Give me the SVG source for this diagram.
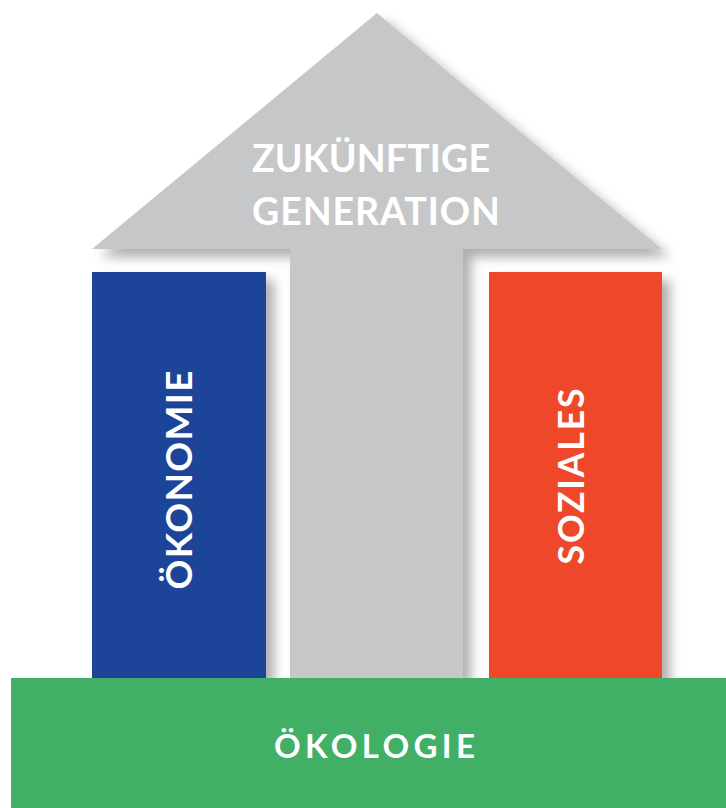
<svg xmlns="http://www.w3.org/2000/svg" width="726" height="808" viewBox="0 0 726 808">
  <defs>
    <filter id="shadow" x="-20%" y="-20%" width="150%" height="150%">
      <feGaussianBlur in="SourceAlpha" stdDeviation="6"/>
      <feOffset dx="8" dy="8" result="b"/>
      <feFlood flood-color="#000" flood-opacity="0.32"/>
      <feComposite in2="b" operator="in"/>
      <feMerge>
        <feMergeNode/>
        <feMergeNode in="SourceGraphic"/>
      </feMerge>
    </filter>
  </defs>
  <style>
    .lbl { font-family: Lato, "Open Sans", "Liberation Sans", sans-serif; font-weight: 700; fill: #ffffff; }
  </style>
  <rect width="726" height="808" fill="#ffffff"/>
  <g id="zukunft">
    <path d="M377 13 L662 249 L463 249 L463 679 L290 679 L290 249 L92 249 Z" fill="#C6C7C9" filter="url(#shadow)"/>
    <text class="lbl" x="252" y="172" font-size="37.5" textLength="238" lengthAdjust="spacing">ZUKÜNFTIGE</text>
    <text class="lbl" x="252" y="225" font-size="37.5" textLength="248" lengthAdjust="spacing">GENERATION</text>
  </g>
  <g id="oekonomie">
    <rect x="92" y="272" width="174" height="407" fill="#1F4499" filter="url(#shadow)"/>
    <text class="lbl" transform="translate(191.5 480) rotate(-90)" x="0" y="0" text-anchor="middle" font-size="37" textLength="219" lengthAdjust="spacing">ÖKONOMIE</text>
  </g>
  <g id="soziales">
    <rect x="489" y="272" width="173" height="407" fill="#EE4729" filter="url(#shadow)"/>
    <text class="lbl" transform="translate(583.5 476.5) rotate(-90)" x="0" y="0" text-anchor="middle" font-size="35.5" textLength="176" lengthAdjust="spacing">SOZIALES</text>
  </g>
  <g id="oekologie">
    <rect x="11" y="678" width="715" height="130" fill="#42AF67"/>
    <text class="lbl" x="274" y="758" font-size="33" textLength="201" lengthAdjust="spacing">ÖKOLOGIE</text>
  </g>
  <g id="connectors"/>
</svg>
